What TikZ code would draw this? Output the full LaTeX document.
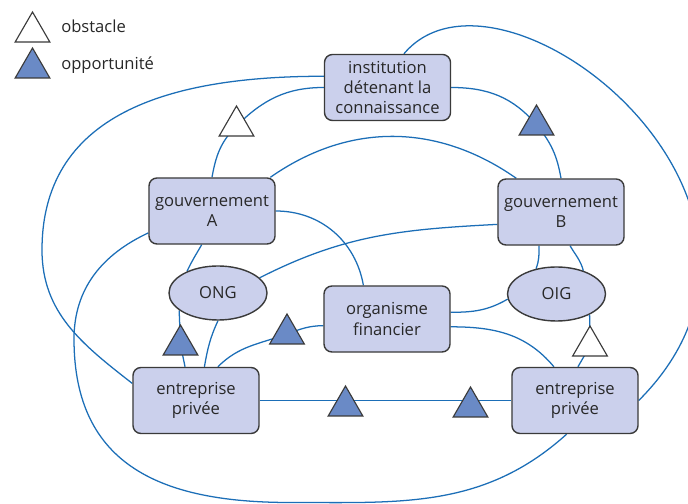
\documentclass[tikz,border=0pt]{standalone}
\usepackage{fontspec}
\setmainfont{Open Sans}
\usetikzlibrary{shapes.geometric,backgrounds}

\definecolor{boxfill}{RGB}{203,208,236}
\definecolor{boxline}{RGB}{58,58,58}
\definecolor{linkblue}{RGB}{27,110,183}
\definecolor{oppfill}{RGB}{106,138,198}
\definecolor{txtgray}{RGB}{40,40,40}

\begin{document}
\begin{tikzpicture}[
      x=0.025cm, y=0.025cm,
      mybox/.style={
         rectangle,
         rounded corners=0.2cm,
         draw=boxline,
         line width=1pt,
         fill=boxfill,
         text=txtgray,
         minimum width=3.15cm,
         minimum height=1.65cm,
         inner sep=1pt,
         align=center,
         font=\fontsize{11.8}{14.5}\selectfont},
      myoval/.style={mybox, ellipse, minimum width=2.45cm, minimum height=1.35cm},
      mytri/.style={
         regular polygon,
         regular polygon sides=3,
         draw=boxline,
         line width=0.8pt,
         minimum size=1cm,
         inner sep=0pt},
      obst/.style={mytri, fill=white},
      oppo/.style={mytri, fill=oppfill},
      mylink/.style={draw=linkblue, line width=0.9pt},
      legtext/.style={text=txtgray, inner sep=0pt, anchor=base west,
         font=\fontsize{11.8}{14.5}\selectfont}
      ]
      \useasboundingbox (0,0) rectangle (688,504);

      \node[mybox] (inst) at (387.5,416.5) {institution\\détenant la\\connaissance};
      \node[mybox] (govA) at (212,293) {gouvernement\\A};
      \node[mybox] (govB) at (561,292) {gouvernement\\B};
      \node[myoval] (ong) at (218,211) {ONG};
      \node[myoval] (oig) at (556.5,210) {OIG};
      \node[mybox] (fin) at (387,185) {organisme\\financier};
      \node[mybox] (entL) at (196,103.5) {entreprise\\privée};
      \node[mybox] (entR) at (575,103.5) {entreprise\\privée};

    \foreach \n/\x/\y/\s in {% name/x/y/kind
      t1/236.5/378/obst,
      t2/536.5/379/oppo,
      t3/180.5/159/oppo,
      t4/287/170/oppo,
      t5/345.5/98/oppo,
      t6/470.5/97/oppo,
      t7/590/158/obst}
       \node[\s] (\n) at (\x,\y) {};

      % legend
      \node[obst] (lobs) at (32.5,472) {};
      \node[oppo] (lopp) at (32.5,436) {};
      \node[legtext] (tobs) at (61,471) {obstacle};
      \node[legtext] (topp) at (61,434) {opportunité};

    \begin{scope}[on background layer]
      \fill[white] (0,0) rectangle (688,504);
      % outer loops
      \draw[mylink] (inst.170) to[out=180,in=90,looseness=1.1] (42,254)
         to[out=270,in=142] (entL.165);
      \draw[mylink] (govA.199) to[out=205,in=90] (74,165)
         to[out=270,in=180,looseness=1.2] (290,1.5) to[out=0,in=222] (entR.256);
      \draw[mylink] (inst.64) .. controls +(50:150) and +(45:280) .. (entR.east);
      % links carrying a marker
      \draw[mylink] (inst.west) to[out=180,in=45] (t1.center) to[out=225,in=80] (govA.north);
      \draw[mylink] (inst.east) to[out=0,in=130] (t2.center) to[out=-50,in=100] (govB.north);
      \draw[mylink] (ong.204) -- (t3.center) -- (entL.108);
      \draw[mylink] (entL.57) to[out=45,in=200] (t4.center) to[out=20,in=180] (fin.186);
      \draw[mylink] (entL.east) -- (entR.west);
      \draw[mylink] (oig.328) -- (t7.center) -- (entR.85);
      % plain links
      \foreach \a/\b/\o/\i in {% from/to/out/in
        govA.30/govB.143/35/145,
        govA.east/fin.125/0/100,
        govA.253/ong.145/240/65,
        ong.20/govB.191/27/183,
        ong.south/entL.76/245/80,
        fin.6/oig.186/0/210,
        fin.353/entR.122/0/130,
        govB.237/oig.129/270/70,
        govB.285/oig.41/-60/105}
         \draw[mylink] (\a) to[out=\o,in=\i] (\b);
    \end{scope}
    \end{tikzpicture}
\end{document}
